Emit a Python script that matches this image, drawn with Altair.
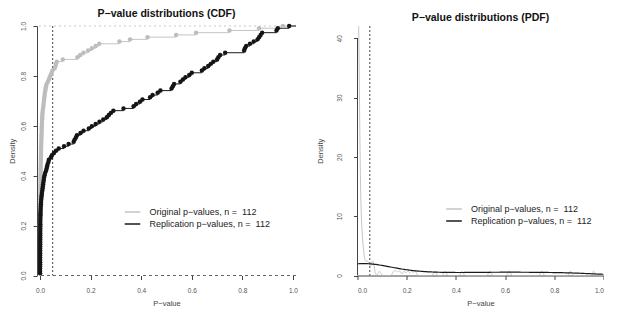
import altair as alt
import pandas as pd

# ---------------- data ----------------
orig_p = [
    0.0001, 0.0001, 0.0001, 0.0001, 0.0001, 0.0002, 0.0002, 0.0002, 0.0002, 0.0003,
    0.0003, 0.0003, 0.0003, 0.0004, 0.0004, 0.0004, 0.0005, 0.0005, 0.0005, 0.0005,
    0.0006, 0.0006, 0.0006, 0.0007, 0.0007, 0.0007, 0.0008, 0.0008, 0.0008, 0.0009,
    0.0009, 0.0009, 0.0010,
    0.0010, 0.0011, 0.0012, 0.0013, 0.0014, 0.0015, 0.0016, 0.0017, 0.0018, 0.0019,
    0.0020, 0.0021, 0.0022, 0.0024, 0.0025, 0.0027, 0.0028, 0.0030, 0.0032, 0.0034,
    0.0036, 0.0038, 0.0040,
    0.0042, 0.0045, 0.0047, 0.0050, 0.0053, 0.0055, 0.0058, 0.0061, 0.0064, 0.0067,
    0.0070, 0.0074, 0.0078, 0.0082, 0.0087, 0.0092, 0.0098, 0.0105,
    0.012, 0.013, 0.014, 0.015, 0.016, 0.017, 0.018, 0.019, 0.021, 0.022, 0.024, 0.026,
    0.031, 0.035, 0.038, 0.042, 0.046, 0.049,
    0.058, 0.061, 0.063, 0.066,
    0.090,
    0.148, 0.159, 0.172, 0.190, 0.205, 0.220, 0.234,
    0.314, 0.356, 0.425, 0.538, 0.617, 0.749, 0.866, 0.960,
]

rep_p = [
    0.0001, 0.0001, 0.0001, 0.0001, 0.0002, 0.0002, 0.0002, 0.0003, 0.0003, 0.0003,
    0.0004, 0.0004, 0.0005, 0.0005, 0.0006, 0.0006, 0.0007, 0.0007, 0.0008, 0.0008,
    0.0009, 0.0009, 0.0010, 0.0010, 0.0011,
    0.0013, 0.0015, 0.0018, 0.0021, 0.0025, 0.0029, 0.0034, 0.0040, 0.0047, 0.0055,
    0.0064, 0.0075,
    0.0088, 0.0100, 0.0110, 0.0122, 0.0135, 0.0148,
    0.016, 0.018, 0.020,
    0.024, 0.026, 0.028, 0.030, 0.033, 0.035,
    0.043, 0.047, 0.055, 0.063,
    0.074, 0.095, 0.113,
    0.133, 0.137, 0.142,
    0.146, 0.160, 0.172,
    0.193, 0.205, 0.220, 0.235, 0.250,
    0.264, 0.272, 0.280, 0.290, 0.330,
    0.370, 0.380, 0.395, 0.405,
    0.435, 0.445,
    0.465, 0.476,
    0.520, 0.525, 0.530,
    0.555, 0.565, 0.575, 0.590, 0.600,
    0.640, 0.650, 0.665, 0.675, 0.685,
    0.700, 0.705, 0.712,
    0.732,
    0.807,
    0.810, 0.815, 0.830, 0.845, 0.860, 0.866, 0.872,
    0.878, 0.935,
    0.940,
    0.985,
]

series_names = ["Original p\u2212values, n = \u00a0112", "Replication p\u2212values, n = \u00a0112"]
cdf_title = "P\u2212value distributions (CDF)"
pdf_title = "P\u2212value distributions (PDF)"
x_title = "P\u2212value"
y_title = "Density"
x_ticks = [0.0, 0.2, 0.4, 0.6, 0.8, 1.0]
cdf_ticks = [0.0, 0.2, 0.4, 0.6, 0.8, 1.0]
pdf_ticks = [0, 10, 20, 30, 40]
alpha_level = [0.05]
cdf_x_domain = [-0.012, 1.012]
cdf_y_domain = [0.0, 1.0]
pdf_x_domain = [0.0, 1.0]
pdf_y_domain = [0.0, 42.07]
orig_bw = 0.005
rep_bw = 0.11

# ---------------- styling ----------------
FONT = "Liberation Sans"
line_colors = ["#c4c4c4", "#1a1a1a"]
point_colors = ["#bdbdbd", "#151515"]

df = pd.DataFrame({
    "series": [series_names[0]] * len(orig_p) + [series_names[1]] * len(rep_p),
    "p": orig_p + rep_p,
})
one_df = pd.DataFrame({"v": alpha_level})
top_df = pd.DataFrame({"v": [cdf_y_domain[1]]})
bot_df = pd.DataFrame({"v": [cdf_y_domain[0]]})
yaxis_df = pd.DataFrame({"x": [0.0], "y": [pdf_ticks[0]], "y2": [pdf_ticks[-1]]})

color_scale = alt.Scale(domain=series_names, range=line_colors)


def make_legend(x, y):
    return alt.Legend(
        orient="none", legendX=x, legendY=y, title=None,
        symbolType="M-1.3,0H1.3", symbolSize=144, symbolStrokeWidth=1.5,
        labelFontSize=9, labelFont=FONT, labelColor="#222",
        labelOffset=10, rowPadding=0, padding=0, labelLimit=0,
    )


# ---------------- CDF panel ----------------
xs_c = alt.Scale(domain=cdf_x_domain, nice=False, zero=False)
ys_c = alt.Scale(domain=cdf_y_domain, nice=False, zero=False)
x_axis_c = alt.Axis(values=x_ticks, format=".1f", title=x_title, domain=False,
                    tickSize=4, labelPadding=8, titlePadding=5)
y_axis_c = alt.Axis(values=cdf_ticks, format=".1f", title=y_title, tickSize=4,
                    labelPadding=6.5, titlePadding=4, labelAngle=270,
                    labelAlign="center", labelBaseline="bottom")

ecdf = (
    alt.Chart(df)
    .transform_joinaggregate(n="count()", groupby=["series"])
    .transform_window(rn="row_number()", nxt="lead(p)", groupby=["series"],
                      sort=[alt.SortField("p", order="ascending")])
    .transform_calculate(cdf="datum.rn / datum.n",
                         nx=f"datum.nxt == null ? {cdf_x_domain[1]} : datum.nxt")
)

top_line = alt.Chart(top_df).mark_rule(color="#c8c8c8", strokeDash=[2, 3], strokeWidth=1).encode(
    y=alt.Y("v:Q", scale=ys_c, axis=y_axis_c))
bot_line = alt.Chart(bot_df).mark_rule(color="#666", strokeDash=[3, 3], strokeWidth=1).encode(
    y=alt.Y("v:Q", scale=ys_c))
alpha_c = alt.Chart(one_df).mark_rule(color="#444", strokeDash=[2, 2], strokeWidth=1).encode(
    x=alt.X("v:Q", scale=xs_c, axis=x_axis_c))

steps = ecdf.mark_rule(strokeWidth=1).encode(
    x=alt.X("p:Q", scale=xs_c, axis=x_axis_c),
    x2="nx:Q",
    y=alt.Y("cdf:Q", scale=ys_c, axis=y_axis_c),
    color=alt.Color("series:N", scale=color_scale, legend=make_legend(88.5, 179)),
)
pts = ecdf.mark_circle(size=20, opacity=1).encode(
    x=alt.X("p:Q", scale=xs_c),
    y=alt.Y("cdf:Q", scale=ys_c),
    fill=alt.Fill("series:N", scale=alt.Scale(domain=series_names, range=point_colors), legend=None),
)

cdf_chart = alt.layer(top_line, bot_line, alpha_c, steps, pts).properties(
    width=259, height=249.5,
    title=alt.TitleParams(cdf_title, font=FONT, fontSize=10.5, fontWeight="bold",
                          color="#111", anchor="middle", frame="group", offset=2),
)

# ---------------- PDF panel ----------------
xs_d = alt.Scale(domain=pdf_x_domain, nice=False, zero=False)
ys_d = alt.Scale(domain=pdf_y_domain, nice=False, zero=False)
x_axis_d = alt.Axis(values=x_ticks, format=".1f", title=x_title, domain=True,
                    tickSize=4, labelPadding=8, titlePadding=5)
y_axis_d = alt.Axis(values=pdf_ticks, format="d", title=y_title, domain=False, tickSize=4,
                    labelPadding=11, titlePadding=12, labelAngle=270,
                    labelAlign="center", labelBaseline="bottom")

yaxis_line = alt.Chart(yaxis_df).mark_rule(color="#444", strokeWidth=1).encode(
    x=alt.X("x:Q", scale=xs_d, axis=x_axis_d),
    y=alt.Y("y:Q", scale=ys_d, axis=y_axis_d),
    y2="y2:Q",
)
alpha_d = alt.Chart(one_df).mark_rule(color="#444", strokeDash=[2, 2], strokeWidth=1).encode(
    x=alt.X("v:Q", scale=xs_d))

dens_o = (
    alt.Chart(df)
    .transform_filter(alt.datum.series == series_names[0])
    .transform_density("p", as_=["p", "density"], bandwidth=orig_bw, extent=pdf_x_domain,
                       steps=800, groupby=["series"])
    .mark_line(clip=True, strokeWidth=1)
    .encode(
        x=alt.X("p:Q", scale=xs_d),
        y=alt.Y("density:Q", scale=ys_d),
        color=alt.Color("series:N", scale=color_scale, legend=make_legend(89.5, 176)),
    )
)
dens_r = (
    alt.Chart(df)
    .transform_filter(alt.datum.series == series_names[1])
    .transform_density("p", as_=["p", "density"], bandwidth=rep_bw, extent=pdf_x_domain,
                       steps=200, groupby=["series"])
    .mark_line(clip=True, strokeWidth=1.2)
    .encode(
        x=alt.X("p:Q", scale=xs_d),
        y=alt.Y("density:Q", scale=ys_d),
        color=alt.Color("series:N", scale=color_scale, legend=make_legend(89.5, 176)),
    )
)

pdf_chart = alt.layer(yaxis_line, alpha_d, dens_o, dens_r).properties(
    width=246, height=249.5,
    title=alt.TitleParams(pdf_title, font=FONT, fontSize=10.5, fontWeight="bold",
                          color="#111", anchor="middle", frame="group", offset=2),
)

chart = (
    alt.hconcat(cdf_chart, pdf_chart, spacing=18.5)
    .resolve_scale(color="independent", fill="independent")
    .resolve_legend(color="independent", fill="independent")
    .properties(padding={"left": 0, "top": 0, "right": 0, "bottom": 0})
    .configure_view(stroke=None)
    .configure_axis(grid=False, labelFont=FONT, titleFont=FONT, labelColor="#555",
                    titleColor="#444", domainColor="#444", tickColor="#444",
                    labelFontSize=6.5, titleFontSize=7.5, titleFontWeight="normal")
)

chart.save("out.html", embed_options={"renderer": "svg", "actions": False})
